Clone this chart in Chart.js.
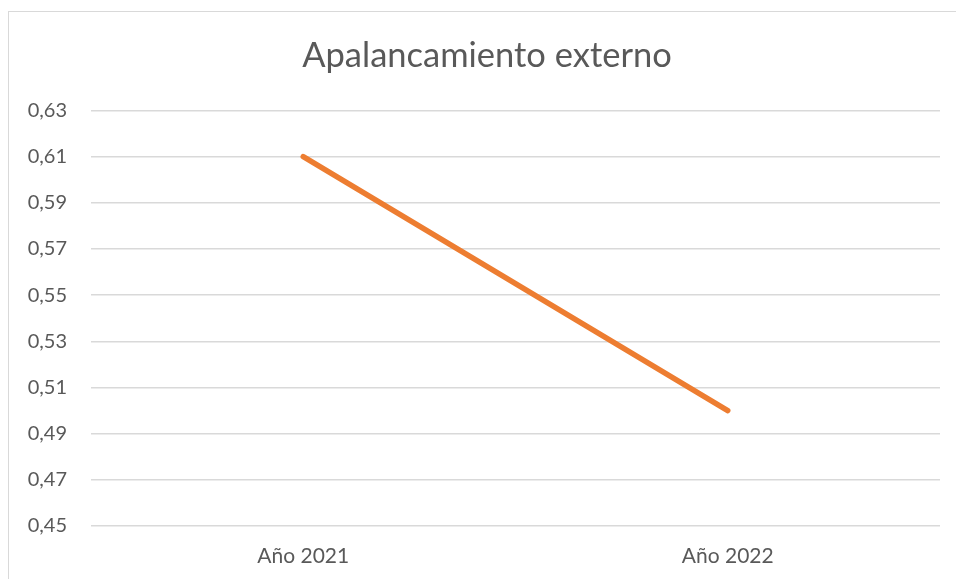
<!DOCTYPE html>
<html>
<head>
<meta charset="utf-8">
<script src="https://cdn.jsdelivr.net/npm/chart.js@4/dist/chart.umd.min.js"></script>
<style>
  html, body { margin: 0; padding: 0; background: #fff; }
  #wrap { position: relative; width: 956px; height: 579px; }
  #frame { position: absolute; left: 8px; top: 11px; width: 960px; height: 580px;
           border-left: 1px solid #d9d9d9; border-top: 1px solid #d9d9d9; box-sizing: border-box; }
  canvas { position: absolute; left: 0; top: 0; }
</style>
</head>
<body>
<div id="wrap">
  <div id="frame"></div>
  <canvas id="c" width="956" height="579"></canvas>
</div>
<script>
const categories = ["Año 2021", "Año 2022"];
const apalancamiento = [0.61, 0.50];
const yMin = 0.45, yMax = 0.63, yStep = 0.02;
const titleText = "Apalancamiento externo";

const FONT = "Lato, 'Open Sans', sans-serif";
const TXT = "#595959";

new Chart(document.getElementById("c"), {
  type: "line",
  data: {
    labels: categories,
    datasets: [{
      label: titleText,
      data: apalancamiento,
      borderColor: "#ED7D31",
      backgroundColor: "#ED7D31",
      borderWidth: 5.5,
      borderCapStyle: "round",
      pointRadius: 0,
      tension: 0
    }]
  },
  options: {
    responsive: false,
    animation: false,
    layout: { padding: { left: 34, right: 16, top: 13, bottom: 0 } },
    plugins: {
      legend: { display: false },
      tooltip: { enabled: false },
      title: {
        display: true,
        text: titleText,
        color: TXT,
        font: { family: FONT, size: 34.5, weight: "normal", lineHeight: 1.2 },
        padding: { top: 22, bottom: 34 }
      }
    },
    scales: {
      x: {
        offset: true,
        afterFit: (s) => { s.height = 53; },
        grid: { display: false, drawTicks: false },
        border: { display: false },
        ticks: { color: TXT, font: { family: FONT, size: 21, lineHeight: 1.2 }, padding: 18 }
      },
      y: {
        min: yMin, max: yMax,
        afterFit: (s) => { s.width = 57; s._computeLabelArea = () => undefined; },
        grid: { color: "#d9d9d9", lineWidth: 1.5, drawTicks: false },
        border: { display: false },
        ticks: {
          stepSize: yStep,
          color: TXT,
          padding: 24,
          font: { family: FONT, size: 20 },
          callback: (v) => v.toFixed(2).replace(".", ",")
        }
      }
    }
  }
});
</script>
</body>
</html>
